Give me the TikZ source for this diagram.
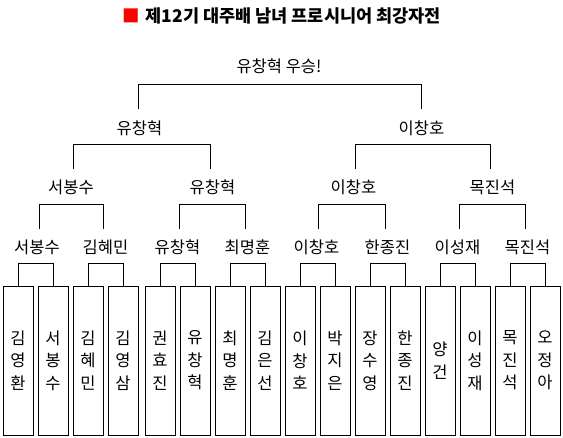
\documentclass[tikz,border=0pt]{standalone}
\usepackage{fontspec}
\newfontfamily\kr{Noto Sans CJK KR}
\begin{document}
\begin{tikzpicture}[x=1pt,y=-1pt,
  leaf/.style={draw, line width=1pt, minimum width=30, minimum height=149, inner sep=0, align=center, font=\kr\fontsize{16.5}{22.5}\selectfont},
  lbl/.style={inner sep=0, font=\kr\fontsize{16.5}{18}\selectfont},
  conn/.style={line width=1pt}]
\useasboundingbox (0,0) rectangle (563,437);
% title
\node[inner sep=0, font=\kr\bfseries\fontsize{17.5}{18}\selectfont] (title) at (281.5,15.5) {\textcolor{red}{■}\hspace{6pt}제12기 대주배 남녀 프로시니어 최강자전};
% leaves
\node[leaf] (L1) at (18,360.5) {김\\영\\환};
\node[leaf] (L2) at (53,360.5) {서\\봉\\수};
\node[leaf] (L3) at (88,360.5) {김\\혜\\민};
\node[leaf] (L4) at (123,360.5) {김\\영\\삼};
\node[leaf] (L5) at (160,360.5) {권\\효\\진};
\node[leaf] (L6) at (195,360.5) {유\\창\\혁};
\node[leaf] (L7) at (230,360.5) {최\\명\\훈};
\node[leaf] (L8) at (265,360.5) {김\\은\\선};
\node[leaf] (L9) at (300,360.5) {이\\창\\호};
\node[leaf] (L10) at (335,360.5) {박\\지\\은};
\node[leaf] (L11) at (370,360.5) {장\\수\\영};
\node[leaf] (L12) at (405,360.5) {한\\종\\진};
\node[leaf] (L13) at (440,360.5) {양\\건};
\node[leaf] (L14) at (475,360.5) {이\\성\\재};
\node[leaf] (L15) at (510,360.5) {목\\진\\석};
\node[leaf] (L16) at (545,360.5) {오\\정\\아};
% round 2 labels
\node[lbl] (A1) at (37,247) {서봉수};
\node[lbl] (A2) at (105.5,247) {김혜민};
\node[lbl] (A3) at (177.5,247) {유창혁};
\node[lbl] (A4) at (247.5,247) {최명훈};
\node[lbl] (A5) at (316.5,247) {이창호};
\node[lbl] (A6) at (387.5,247) {한종진};
\node[lbl] (A7) at (457.5,247) {이성재};
\node[lbl] (A8) at (527.5,247) {목진석};
% round 3 labels
\node[lbl] (B1) at (71,187) {서봉수};
\node[lbl] (B2) at (212.5,187) {유창혁};
\node[lbl] (B3) at (353.5,187) {이창호};
\node[lbl] (B4) at (492.5,187) {목진석};
% round 4 labels
\node[lbl] (C1) at (139.5,128) {유창혁};
\node[lbl] (C2) at (421.5,128) {이창호};
% final
\node[lbl] (F) at (279,66) {유창혁 우승!};
% leaf brackets
\foreach \a/\b in {L1/L2,L3/L4,L5/L6,L7/L8,L9/L10,L11/L12,L13/L14,L15/L16}
  \draw[conn] (\a.north) -- ++(0,-22) -| (\b.north);
% round 2 -> 3
\foreach \a/\b in {A1/A2,A3/A4,A5/A6,A7/A8}
  \draw[conn] ([shift={(2,-18)}]\a.center) -- ++(0,-25) -| ([shift={(-2,-18)}]\b.center);
% round 3 -> 4
\foreach \a/\b in {B1/B2,B3/B4}
  \draw[conn] ([shift={(2,-18)}]\a.center) -- ++(0,-25) -| ([shift={(-2,-18)}]\b.center);
% final bracket
\draw[conn] ([shift={(-1,-19)}]C1.center) -- ++(0,-25) -| ([shift={(0,-19)}]C2.center);
\end{tikzpicture}
\end{document}
